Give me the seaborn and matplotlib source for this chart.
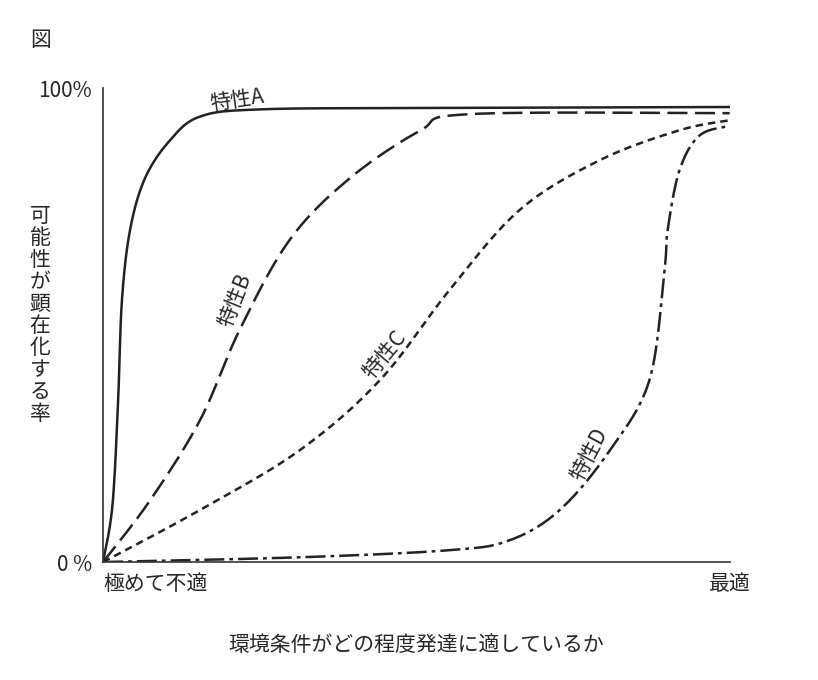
import matplotlib
matplotlib.use("Agg")
import matplotlib.pyplot as plt
import seaborn as sns
import pandas as pd
import numpy as np

sns.set_style("white")
plt.rcParams['font.family'] = ['Noto Sans CJK JP', 'DejaVu Sans']

ax_x = [0.0, 0.015, 0.024, 0.03, 0.043, 0.067, 0.107, 0.155, 0.25, 0.5, 1.0]
ax_y = [0.0, 0.12, 0.34, 0.55, 0.70, 0.81, 0.89, 0.94, 0.955, 0.958, 0.96]
bx = [0.0, 0.075, 0.155, 0.218, 0.298, 0.394, 0.506, 0.585, 1.0]
by = [0.0, 0.13, 0.30, 0.49, 0.68, 0.81, 0.91, 0.945, 0.947]
cx = [0.0, 0.155, 0.314, 0.442, 0.553, 0.665, 0.793, 0.92, 1.0]
cy = [0.0, 0.11, 0.236, 0.384, 0.574, 0.743, 0.848, 0.911, 0.932]
dx = [0.0, 0.314, 0.553, 0.649, 0.729, 0.809, 0.872, 0.896, 0.901, 0.92, 0.952, 1.0]
dy = [0.0, 0.01, 0.025, 0.046, 0.11, 0.236, 0.384, 0.616, 0.70, 0.827, 0.90, 0.92]
labels = ["特性A", "特性B", "特性C", "特性D"]
xticklabels = ["極めて不適", "最適"]
yticklabels = ["0 %", "100%"]


def smooth(xs, ys, n=30):
    p = np.column_stack([xs, ys]).astype(float)
    p = np.vstack([p[0], p, p[-1]])
    out = []
    for i in range(1, len(p) - 2):
        p0, p1, p2, p3 = p[i - 1], p[i], p[i + 1], p[i + 2]
        for t in np.linspace(0, 1, n, endpoint=False):
            out.append(0.5 * (2 * p1 + (-p0 + p2) * t + (2 * p0 - 5 * p1 + 4 * p2 - p3) * t ** 2
                              + (-p0 + 3 * p1 - 3 * p2 + p3) * t ** 3))
    out.append(p[-2])
    out = np.array(out)
    return out[:, 0], out[:, 1]


fig = plt.figure(figsize=(8.18, 6.8), dpi=100)
ax = fig.add_axes([0.126, 0.1735, 0.766, 0.697])
styles = ["-", (0, (8, 3)), (0, (3, 2)), (0, (8, 2, 1.5, 2))]
for xs, ys, ls in zip([ax_x, bx, cx, dx], [ax_y, by, cy, dy], styles):
    sx, sy = smooth(xs, ys)
    df = pd.DataFrame({"x": sx, "y": sy})
    sns.lineplot(data=df, x="x", y="y", ax=ax, color="#222222", lw=1.8,
                 linestyle=ls, sort=False)
ax.set_xlim(0, 1)
ax.set_ylim(0, 1)
sns.despine(ax=ax)
for s in ["left", "bottom"]:
    ax.spines[s].set_color("#333333")
    ax.spines[s].set_linewidth(1.2)
ax.set_xticks([0.0, 1.0])
ax.set_xticklabels(xticklabels, fontsize=15)
ax.get_xticklabels()[0].set_ha("left")
ax.set_yticks([0, 1])
ax.set_yticklabels(yticklabels, fontsize=15)
ax.tick_params(length=0, pad=8)
ax.set_xlabel("環境条件がどの程度発達に適しているか", fontsize=15, labelpad=28)
ax.set_ylabel("")
pos = [(0.214, 0.975, 8), (0.211, 0.553, 68), (0.45, 0.437, 50), (0.777, 0.226, 62)]
for lab, (x, y, r) in zip(labels, pos):
    ax.text(x, y, lab, fontsize=15, rotation=r, ha="center", va="center")
fig.text(40 / 818, 1 - 315 / 680, "\n".join("可能性が顕在化する率"), fontsize=15,
         ha="center", va="center", linespacing=1.0)
fig.text(30 / 818, 1 - 40 / 680, "図", fontsize=15, ha="left", va="center")
fig.savefig("out.png", dpi=100, facecolor="white")
